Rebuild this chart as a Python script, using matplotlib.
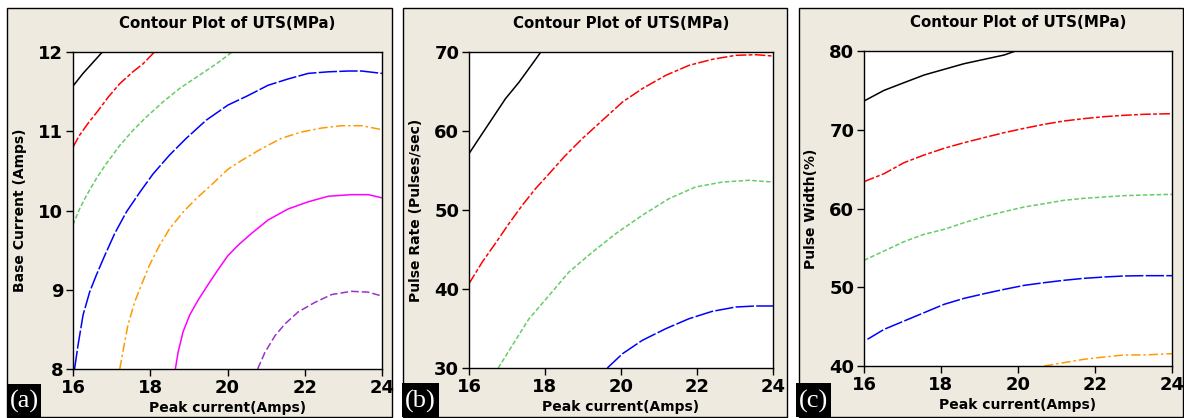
import matplotlib.pyplot as plt
from matplotlib.patches import Rectangle

# ---- data (points along each contour line) ----
# panel (a): Peak current vs Base current
a_black_x = [16.0, 16.26, 16.52, 16.76]
a_black_y = [11.57, 11.73, 11.87, 12.0]
a_red_x = [16.0, 16.17, 16.39, 16.65, 16.91, 17.21, 17.55, 17.81, 18.11]
a_red_y = [10.80, 10.95, 11.10, 11.26, 11.43, 11.60, 11.75, 11.85, 12.0]
a_green_x = [16.0, 16.17, 16.35, 16.60, 16.86, 17.21, 17.55, 17.90, 18.33,
             18.76, 19.28, 19.71, 20.12]
a_green_y = [9.82, 10.02, 10.19, 10.40, 10.59, 10.82, 11.01, 11.18, 11.37,
             11.54, 11.71, 11.85, 12.0]
a_blue_x = [16.04, 16.13, 16.26, 16.43, 16.60, 16.82, 17.08, 17.38, 17.73, 18.07,
            18.50, 18.93, 19.45, 20.01, 20.53, 21.05, 21.57, 22.09, 22.61, 23.13,
            23.47, 24.0]
a_blue_y = [8.0, 8.30, 8.68, 8.97, 9.18, 9.43, 9.71, 9.98, 10.23, 10.46,
            10.70, 10.91, 11.14, 11.33, 11.45, 11.58, 11.66, 11.73, 11.75, 11.76,
            11.76, 11.73]
a_orange_x = [17.21, 17.29, 17.42, 17.60, 17.77, 17.98, 18.24, 18.50, 18.85, 19.19,
              19.62, 20.01, 20.36, 20.88, 21.39, 21.91, 22.43, 22.95, 23.47, 24.0]
a_orange_y = [8.0, 8.21, 8.55, 8.85, 9.06, 9.31, 9.56, 9.77, 9.98, 10.15,
              10.34, 10.52, 10.63, 10.78, 10.91, 10.99, 11.04, 11.07, 11.07, 11.02]
a_magenta_x = [18.65, 18.72, 18.85, 19.02, 19.24, 19.49, 19.75, 20.01, 20.27, 20.62,
               21.05, 21.57, 22.09, 22.61, 23.21, 23.64, 24.0]
a_magenta_y = [8.0, 8.21, 8.47, 8.68, 8.87, 9.06, 9.25, 9.43, 9.56, 9.71,
               9.88, 10.02, 10.11, 10.18, 10.20, 10.20, 10.16]
a_purple_x = [20.78, 20.97, 21.23, 21.49, 21.83, 22.26, 22.70, 23.21, 23.64, 24.0]
a_purple_y = [8.0, 8.21, 8.42, 8.57, 8.72, 8.84, 8.94, 8.98, 8.97, 8.92]

# panel (b): Peak current vs Pulse rate
b_black_x = [16.0, 16.26, 16.61, 16.96, 17.32, 17.67, 17.89]
b_black_y = [57.13, 59.03, 61.56, 64.09, 66.2, 68.52, 70.0]
b_red_x = [16.0, 16.35, 16.75, 17.05, 17.40, 17.75, 18.11, 18.50, 18.98, 19.51,
           20.04, 20.56, 21.18, 21.79, 22.40, 23.02, 23.54, 24.0]
b_red_y = [40.68, 43.42, 46.16, 48.27, 50.59, 52.70, 54.6, 56.71, 59.03, 61.35,
           63.67, 65.36, 67.05, 68.31, 69.07, 69.58, 69.66, 69.49]
b_green_x = [16.77, 17.14, 17.58, 18.11, 18.63, 19.25, 19.86, 20.56, 21.26,
             21.96, 22.67, 23.37, 24.0]
b_green_y = [30.0, 32.87, 36.24, 39.2, 42.15, 44.68, 47.0, 49.33, 51.43,
             52.91, 53.54, 53.76, 53.54]
b_blue_x = [19.64, 20.04, 20.56, 21.18, 21.79, 22.40, 23.02, 23.54, 24.0]
b_blue_y = [30.0, 31.81, 33.5, 34.98, 36.24, 37.17, 37.72, 37.85, 37.85]

# panel (c): Peak current vs Pulse width
c_black_x = [16.0, 16.52, 17.04, 17.56, 18.08, 18.60, 19.12, 19.64, 19.94]
c_black_y = [73.65, 75.0, 75.98, 76.95, 77.67, 78.39, 78.94, 79.49, 80.0]
c_red_x = [16.0, 16.52, 17.04, 17.56, 18.08, 18.60, 19.12, 19.64, 20.16, 20.68,
           21.19, 21.71, 22.23, 22.75, 23.27, 24.0]
c_red_y = [63.41, 64.42, 65.82, 66.79, 67.64, 68.36, 69.0, 69.63, 70.18, 70.69,
           71.11, 71.41, 71.66, 71.83, 71.96, 72.04]
c_green_x = [16.0, 16.52, 17.04, 17.56, 18.08, 18.60, 19.12, 19.64, 20.16, 20.68,
             21.19, 21.71, 22.23, 22.75, 23.27, 24.0]
c_green_y = [53.42, 54.6, 55.79, 56.72, 57.35, 58.2, 58.96, 59.6, 60.19, 60.61,
             61.04, 61.29, 61.46, 61.63, 61.71, 61.8]
c_blue_x = [16.09, 16.52, 17.04, 17.56, 18.08, 18.60, 19.12, 19.64, 20.16, 20.68,
            21.19, 21.71, 22.23, 22.75, 23.27, 24.0]
c_blue_y = [43.39, 44.65, 45.71, 46.77, 47.83, 48.59, 49.18, 49.73, 50.24, 50.58,
            50.88, 51.13, 51.30, 51.43, 51.47, 51.47]
c_orange_x = [20.68, 21.19, 21.71, 22.23, 22.75, 23.27, 24.0]
c_orange_y = [40.0, 40.42, 40.85, 41.14, 41.40, 41.40, 41.57]

x_ticks = [16, 18, 20, 22, 24]
title = "Contour Plot of UTS(MPa)"
x_label = "Peak current(Amps)"
panel_letters = ["(a)", "(b)", "(c)"]
y_labels = ["Base Current (Amps)", "Pulse Rate (Pulses/sec)", "Pulse Width(%)"]
y_ticks = [[8, 9, 10, 11, 12], [30, 40, 50, 60, 70], [40, 50, 60, 70, 80]]

# line styles per contour level (Minitab-like)
styles = {
    "black": ("black", "-"),
    "red": ("#FF0000", (0, (7, 1.5, 2.5, 1.5))),
    "green": ("#66CC66", (0, (3, 1.5))),
    "blue": ("#0000FF", (0, (12, 1.5))),
    "orange": ("#FF9900", (0, (6, 2, 1.5, 2))),
    "magenta": ("#FF00FF", "-"),
    "purple": ("#9933CC", (0, (5, 2))),
}

curves = [
    [("black", a_black_x, a_black_y), ("red", a_red_x, a_red_y),
     ("green", a_green_x, a_green_y), ("blue", a_blue_x, a_blue_y),
     ("orange", a_orange_x, a_orange_y), ("magenta", a_magenta_x, a_magenta_y),
     ("purple", a_purple_x, a_purple_y)],
    [("black", b_black_x, b_black_y), ("red", b_red_x, b_red_y),
     ("green", b_green_x, b_green_y), ("blue", b_blue_x, b_blue_y)],
    [("black", c_black_x, c_black_y), ("red", c_red_x, c_red_y),
     ("green", c_green_x, c_green_y), ("blue", c_blue_x, c_blue_y),
     ("orange", c_orange_x, c_orange_y)],
]

W, H = 1184, 418
BEIGE = "#EEEAE0"

# pixel boxes (left, top, right, bottom)
outer_boxes = [(7, 8, 392, 417), (403, 8, 787, 417), (799, 8, 1183, 417)]
axes_boxes = [(73, 52, 382, 369), (469, 52, 773, 368), (864, 51, 1172, 366)]
letter_boxes = [(7, 384, 41, 417), (402, 383, 439, 417), (796, 383, 831, 417)]


def fx(px):
    return px / W


def fy(py):
    return 1 - py / H


fig = plt.figure(figsize=(W / 100, H / 100), dpi=100)
fig.patch.set_facecolor("white")

for i in range(3):
    l, t, r, b = outer_boxes[i]
    fig.add_artist(Rectangle((fx(l), fy(b)), fx(r) - fx(l), fy(t) - fy(b),
                             transform=fig.transFigure, facecolor=BEIGE,
                             edgecolor="black", linewidth=1.0, zorder=0))

    l, t, r, b = axes_boxes[i]
    ax = fig.add_axes([fx(l), fy(b), fx(r) - fx(l), fy(t) - fy(b)])
    ax.set_facecolor("white")
    for name, xs, ys in curves[i]:
        color, ls = styles[name]
        ax.plot(xs, ys, color=color, linestyle=ls, linewidth=1.1)

    ax.set_xlim(16, 24)
    ax.set_ylim(y_ticks[i][0], y_ticks[i][-1])
    ax.set_xticks(x_ticks)
    ax.set_yticks(y_ticks[i])
    ax.tick_params(direction="out", length=5, width=1, labelsize=13, pad=2)
    for lab in ax.get_xticklabels() + ax.get_yticklabels():
        lab.set_fontweight("bold")
    for sp in ax.spines.values():
        sp.set_linewidth(1.0)

    ax.set_title(title, fontsize=10.8, fontweight="bold", pad=17)
    ax.set_xlabel(x_label, fontsize=10, fontweight="bold", labelpad=3)
    ax.set_ylabel(y_labels[i], fontsize=10, fontweight="bold", labelpad=8)

    l, t, r, b = letter_boxes[i]
    fig.add_artist(Rectangle((fx(l), fy(b)), fx(r) - fx(l), fy(t) - fy(b),
                             transform=fig.transFigure, facecolor="black",
                             edgecolor="none", zorder=3))
    fig.text(fx((l + r) / 2), fy((t + b) / 2 + 1), panel_letters[i], color="white",
             fontsize=19, family="Liberation Serif", ha="center", va="center", zorder=4)

fig.savefig("out.png", dpi=100, facecolor="white")
